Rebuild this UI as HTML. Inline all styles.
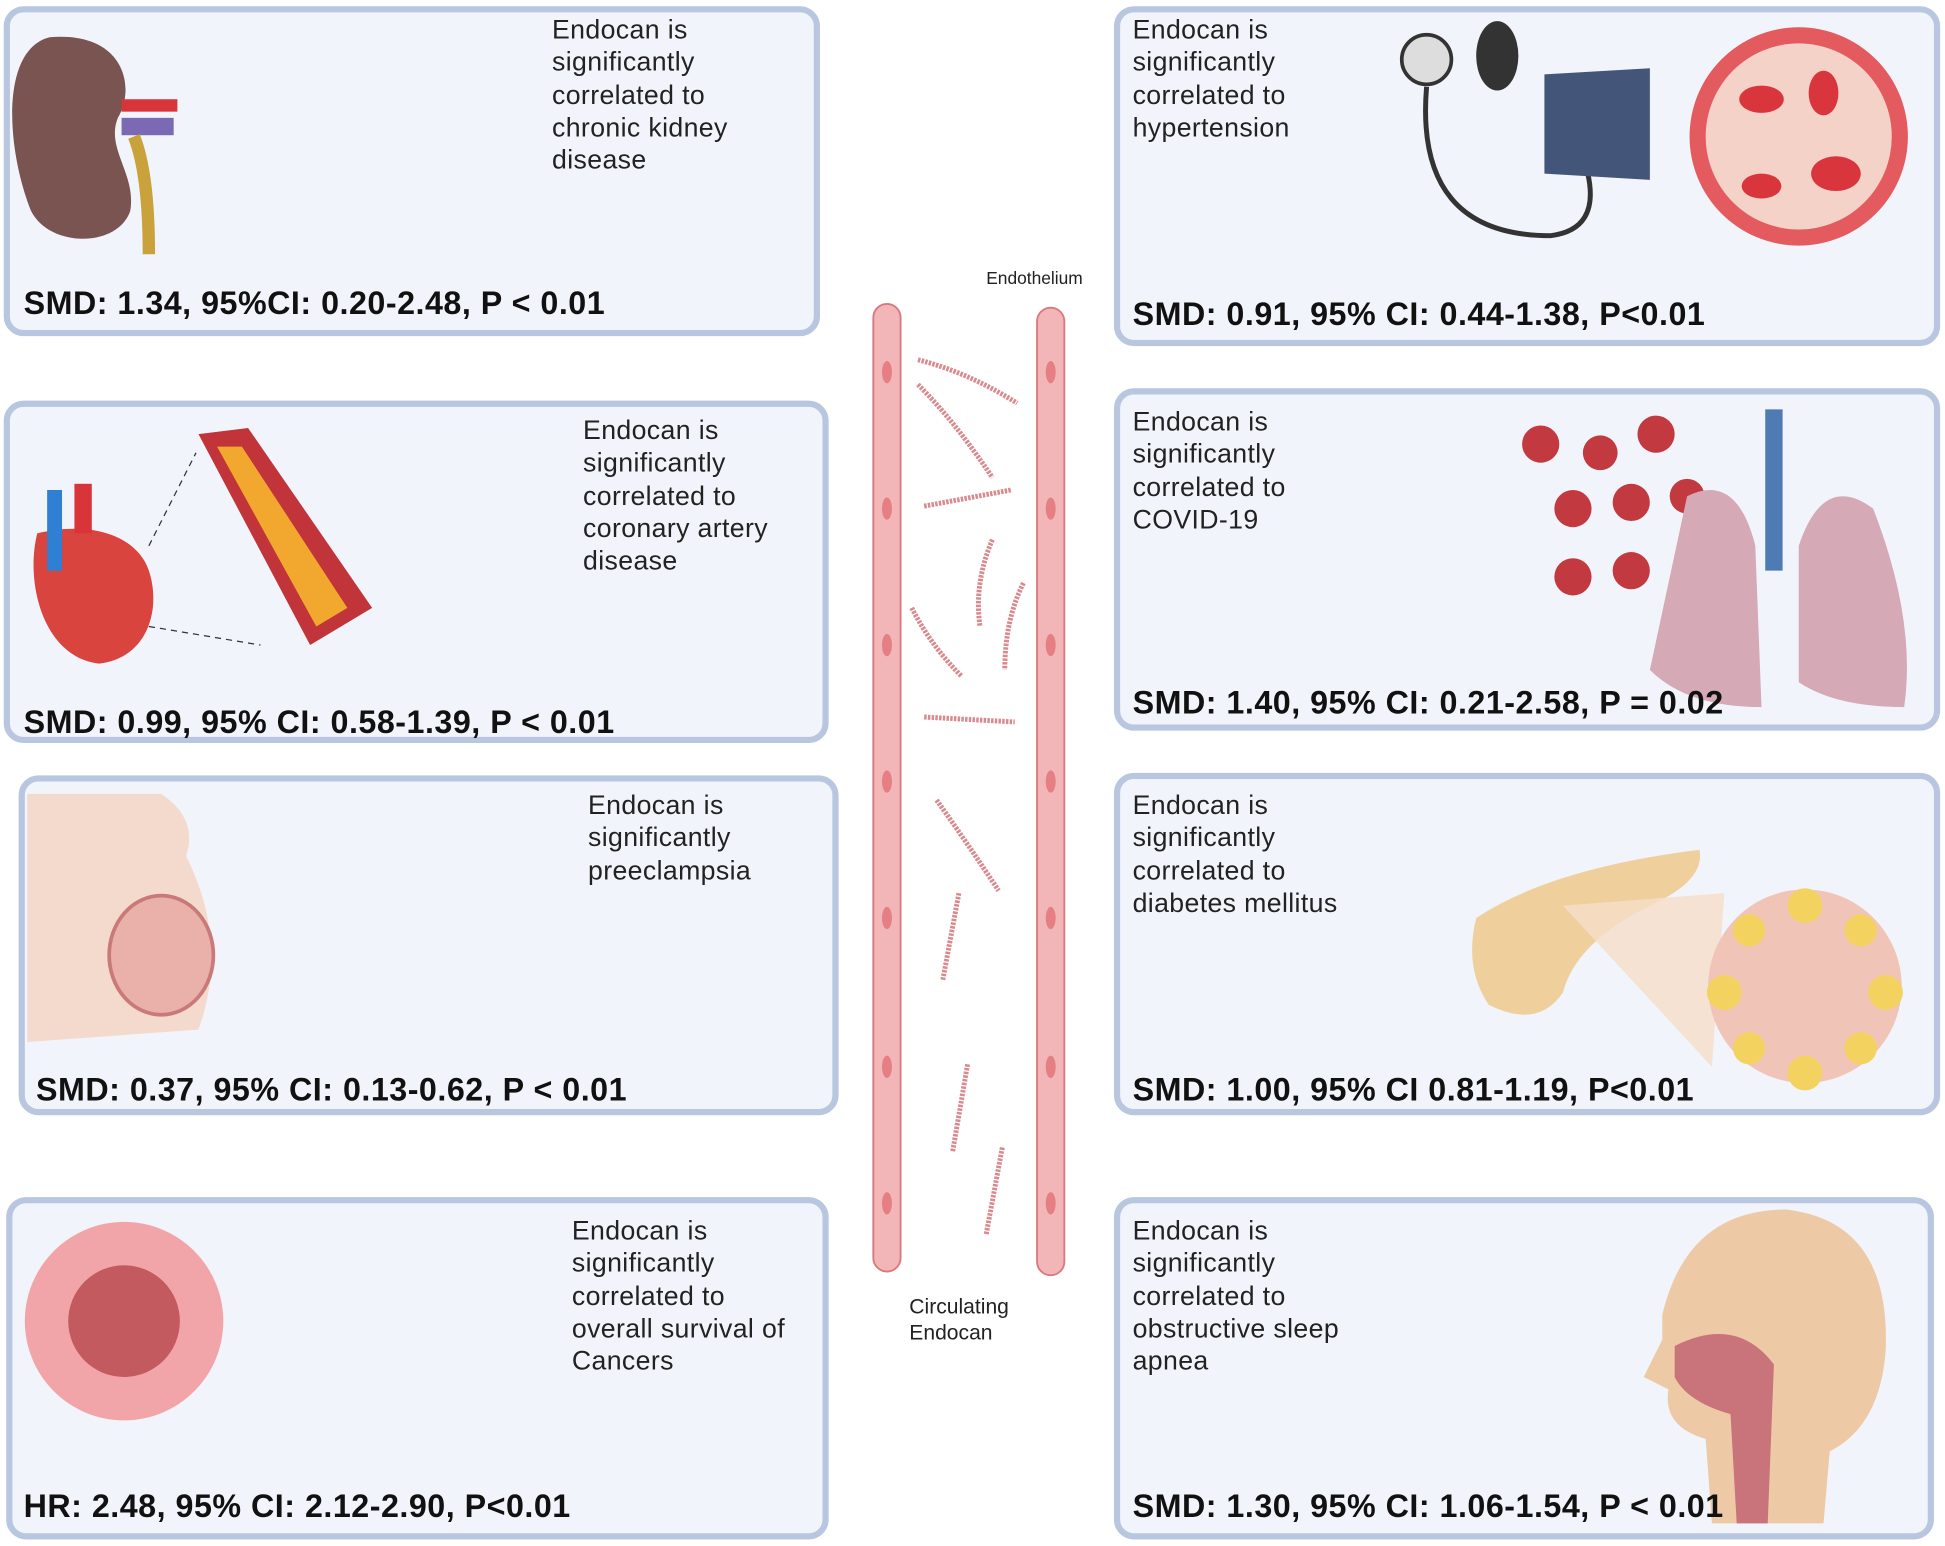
<!DOCTYPE html>
<html><head><meta charset="utf-8"><style>
html,body{margin:0;padding:0;background:#fff;}
body{width:1945px;height:1545px;overflow:hidden;position:relative;}
#c{position:absolute;left:0;top:0;width:1568px;height:1246px;transform:scale(1.2405);transform-origin:0 0;font-family:"Liberation Sans",sans-serif;}
.b{position:absolute;box-sizing:border-box;border:5px solid #b8c6e0;border-radius:16px;background:#f1f5fb;}
.t{position:absolute;font-size:21.5px;line-height:26.3px;color:#222;letter-spacing:0.3px;}
.s{position:absolute;font-size:26px;font-weight:bold;color:#111;white-space:nowrap;letter-spacing:0.4px;}
.a{position:absolute;}
</style></head><body><div id="c">
<div class="b" style="left:3px;top:5px;width:658px;height:266px"></div>
<div class="b" style="left:3px;top:323px;width:665px;height:276px"></div>
<div class="b" style="left:15px;top:625px;width:661px;height:274px"></div>
<div class="b" style="left:5px;top:965px;width:663px;height:276px"></div>
<div class="b" style="left:898px;top:5px;width:666px;height:274px"></div>
<div class="b" style="left:898px;top:313px;width:666px;height:276px"></div>
<div class="b" style="left:898px;top:623px;width:666px;height:276px"></div>
<div class="b" style="left:898px;top:965px;width:661px;height:276px"></div>

<svg class="a" style="left:0;top:0" width="1568" height="1246">
<g fill="#f2b6b8" stroke="#d9797d" stroke-width="1.5">
<rect x="704" y="245" width="22" height="780" rx="11"/>
<rect x="836" y="248" width="22" height="780" rx="11"/>
</g>
<g fill="#e57f84">
<ellipse cx="715" cy="300" rx="4" ry="9"/><ellipse cx="715" cy="410" rx="4" ry="9"/><ellipse cx="715" cy="520" rx="4" ry="9"/><ellipse cx="715" cy="630" rx="4" ry="9"/><ellipse cx="715" cy="740" rx="4" ry="9"/><ellipse cx="715" cy="860" rx="4" ry="9"/><ellipse cx="715" cy="970" rx="4" ry="9"/>
<ellipse cx="847" cy="300" rx="4" ry="9"/><ellipse cx="847" cy="410" rx="4" ry="9"/><ellipse cx="847" cy="520" rx="4" ry="9"/><ellipse cx="847" cy="630" rx="4" ry="9"/><ellipse cx="847" cy="740" rx="4" ry="9"/><ellipse cx="847" cy="860" rx="4" ry="9"/><ellipse cx="847" cy="970" rx="4" ry="9"/>
</g>
<g stroke="#d88a8e" stroke-width="4" fill="none" stroke-dasharray="2 1">
<path d="M740 290 Q780 300 820 325"/><path d="M740 310 Q770 340 800 385"/><path d="M745 408 L815 395"/><path d="M800 435 Q785 470 790 505"/><path d="M825 470 Q810 500 810 540"/><path d="M735 490 Q750 520 775 545"/><path d="M745 578 L818 582"/><path d="M755 645 Q780 680 805 718"/><path d="M773 720 L760 790"/><path d="M780 858 L768 928"/><path d="M808 925 L795 995"/>
</g>
<path d="M40 30 C0 40 5 120 25 170 C40 200 95 200 105 170 C110 140 85 120 95 95 C110 70 100 25 40 30Z" fill="#7a5450"/>
<rect x="98" y="80" width="45" height="10" fill="#d9343a"/><rect x="98" y="95" width="42" height="14" fill="#7b6ab3"/>
<path d="M108 110 Q120 140 120 205" stroke="#c9a23c" stroke-width="10" fill="none"/>
<path d="M30 430 C20 470 35 530 80 535 C120 530 130 490 120 460 C110 430 70 420 30 430Z" fill="#d9443e"/>
<rect x="38" y="395" width="12" height="65" fill="#2f7fd3"/><rect x="60" y="390" width="14" height="40" fill="#d9343a"/>
<path d="M160 350 L200 345 L300 490 L250 520 Z" fill="#c0343a"/><path d="M175 360 L195 360 L280 490 L255 505Z" fill="#f2a82f"/>
<path d="M120 440 L158 365 M120 505 L210 520" stroke="#333" stroke-dasharray="5 4"/>
<path d="M22 640 L130 640 Q160 660 150 690 Q185 760 160 830 L22 840Z" fill="#f3dacd"/>
<ellipse cx="130" cy="770" rx="42" ry="48" fill="#e9b1aa" stroke="#c97a78" stroke-width="3"/>
<circle cx="100" cy="1065" r="80" fill="#f1a5a8"/><circle cx="100" cy="1065" r="45" fill="#c35a60"/>
<circle cx="1150" cy="48" r="20" fill="#ddd" stroke="#333" stroke-width="3"/><ellipse cx="1207" cy="45" rx="17" ry="28" fill="#333"/>
<path d="M1150 70 Q1140 190 1250 190 Q1290 185 1280 140" stroke="#333" stroke-width="4" fill="none"/>
<path d="M1245 60 L1330 55 L1330 145 L1245 140Z" fill="#44557a"/>
<circle cx="1450" cy="110" r="88" fill="#e35b5f"/><circle cx="1450" cy="110" r="75" fill="#f5d2c8"/>
<g fill="#d8363c"><ellipse cx="1420" cy="80" rx="18" ry="11"/><ellipse cx="1480" cy="140" rx="20" ry="14"/><ellipse cx="1420" cy="150" rx="16" ry="10"/><ellipse cx="1470" cy="75" rx="12" ry="18"/></g>
<g fill="#c2393f"><circle cx="1242" cy="358" r="15"/><circle cx="1290" cy="365" r="14"/><circle cx="1335" cy="350" r="15"/><circle cx="1268" cy="410" r="15"/><circle cx="1315" cy="405" r="15"/><circle cx="1360" cy="400" r="14"/><circle cx="1268" cy="465" r="15"/><circle cx="1315" cy="460" r="15"/></g>
<path d="M1360 400 Q1400 380 1415 440 L1420 570 Q1360 570 1330 540Z" fill="#d5a9b6"/><path d="M1450 440 Q1470 380 1510 410 Q1545 500 1535 570 Q1480 570 1450 550Z" fill="#d5a9b6"/>
<rect x="1423" y="330" width="14" height="130" fill="#4f7bb5"/>
<path d="M1190 740 Q1250 700 1370 685 Q1375 710 1330 730 Q1270 760 1260 800 Q1240 830 1200 810 Q1180 780 1190 740Z" fill="#efd09d"/>
<path d="M1260 730 L1390 720 L1380 860 Z" fill="#f6ddc9" opacity=".8"/>
<circle cx="1455" cy="795" r="78" fill="#f0c5b8"/>
<g fill="#f4d260"><circle cx="1390" cy="800" r="14"/><circle cx="1520" cy="800" r="14"/><circle cx="1455" cy="730" r="14"/><circle cx="1455" cy="865" r="14"/><circle cx="1410" cy="750" r="13"/><circle cx="1500" cy="750" r="13"/><circle cx="1410" cy="845" r="13"/><circle cx="1500" cy="845" r="13"/></g>
<path d="M1340 1060 Q1360 975 1440 975 Q1525 985 1520 1090 Q1515 1150 1475 1170 L1470 1228 L1380 1228 L1375 1160 Q1340 1150 1345 1120 L1325 1110 L1340 1080Z" fill="#edc9a6"/>
<path d="M1350 1085 Q1400 1060 1430 1100 L1425 1228 L1400 1228 L1395 1140 Q1360 1130 1350 1110Z" fill="#c9737a"/>
</svg>

<div class="t" style="left:445px;top:11px">Endocan is<br>significantly<br>correlated to<br>chronic kidney<br>disease</div>
<div class="s" style="left:19px;top:229px">SMD: 1.34, 95%CI: 0.20-2.48, P &lt; 0.01</div>
<div class="t" style="left:470px;top:334px">Endocan is<br>significantly<br>correlated to<br>coronary artery<br>disease</div>
<div class="s" style="left:19px;top:567px">SMD: 0.99, 95% CI: 0.58-1.39, P &lt; 0.01</div>
<div class="t" style="left:474px;top:636px">Endocan is<br>significantly<br>preeclampsia</div>
<div class="s" style="left:29px;top:863px">SMD: 0.37, 95% CI: 0.13-0.62, P &lt; 0.01</div>
<div class="t" style="left:461px;top:979px">Endocan is<br>significantly<br>correlated to<br>overall survival of<br>Cancers</div>
<div class="s" style="left:19px;top:1199px">HR: 2.48, 95% CI: 2.12-2.90, P&lt;0.01</div>

<div class="t" style="left:913px;top:11px">Endocan is<br>significantly<br>correlated to<br>hypertension</div>
<div class="s" style="left:913px;top:238px">SMD: 0.91, 95% CI: 0.44-1.38, P&lt;0.01</div>
<div class="t" style="left:913px;top:327px">Endocan is<br>significantly<br>correlated to<br>COVID-19</div>
<div class="s" style="left:913px;top:551px">SMD: 1.40, 95% CI: 0.21-2.58, P = 0.02</div>
<div class="t" style="left:913px;top:636px">Endocan is<br>significantly<br>correlated to<br>diabetes mellitus</div>
<div class="s" style="left:913px;top:863px">SMD: 1.00, 95% CI 0.81-1.19, P&lt;0.01</div>
<div class="t" style="left:913px;top:979px">Endocan is<br>significantly<br>correlated to<br>obstructive sleep<br>apnea</div>
<div class="s" style="left:913px;top:1199px">SMD: 1.30, 95% CI: 1.06-1.54, P &lt; 0.01</div>

<div class="a" style="left:795px;top:216px;font-size:14px;color:#222">Endothelium</div>
<div class="a" style="left:733px;top:1043px;font-size:17px;line-height:21px;color:#222">Circulating<br>Endocan</div>
</div></body></html>
